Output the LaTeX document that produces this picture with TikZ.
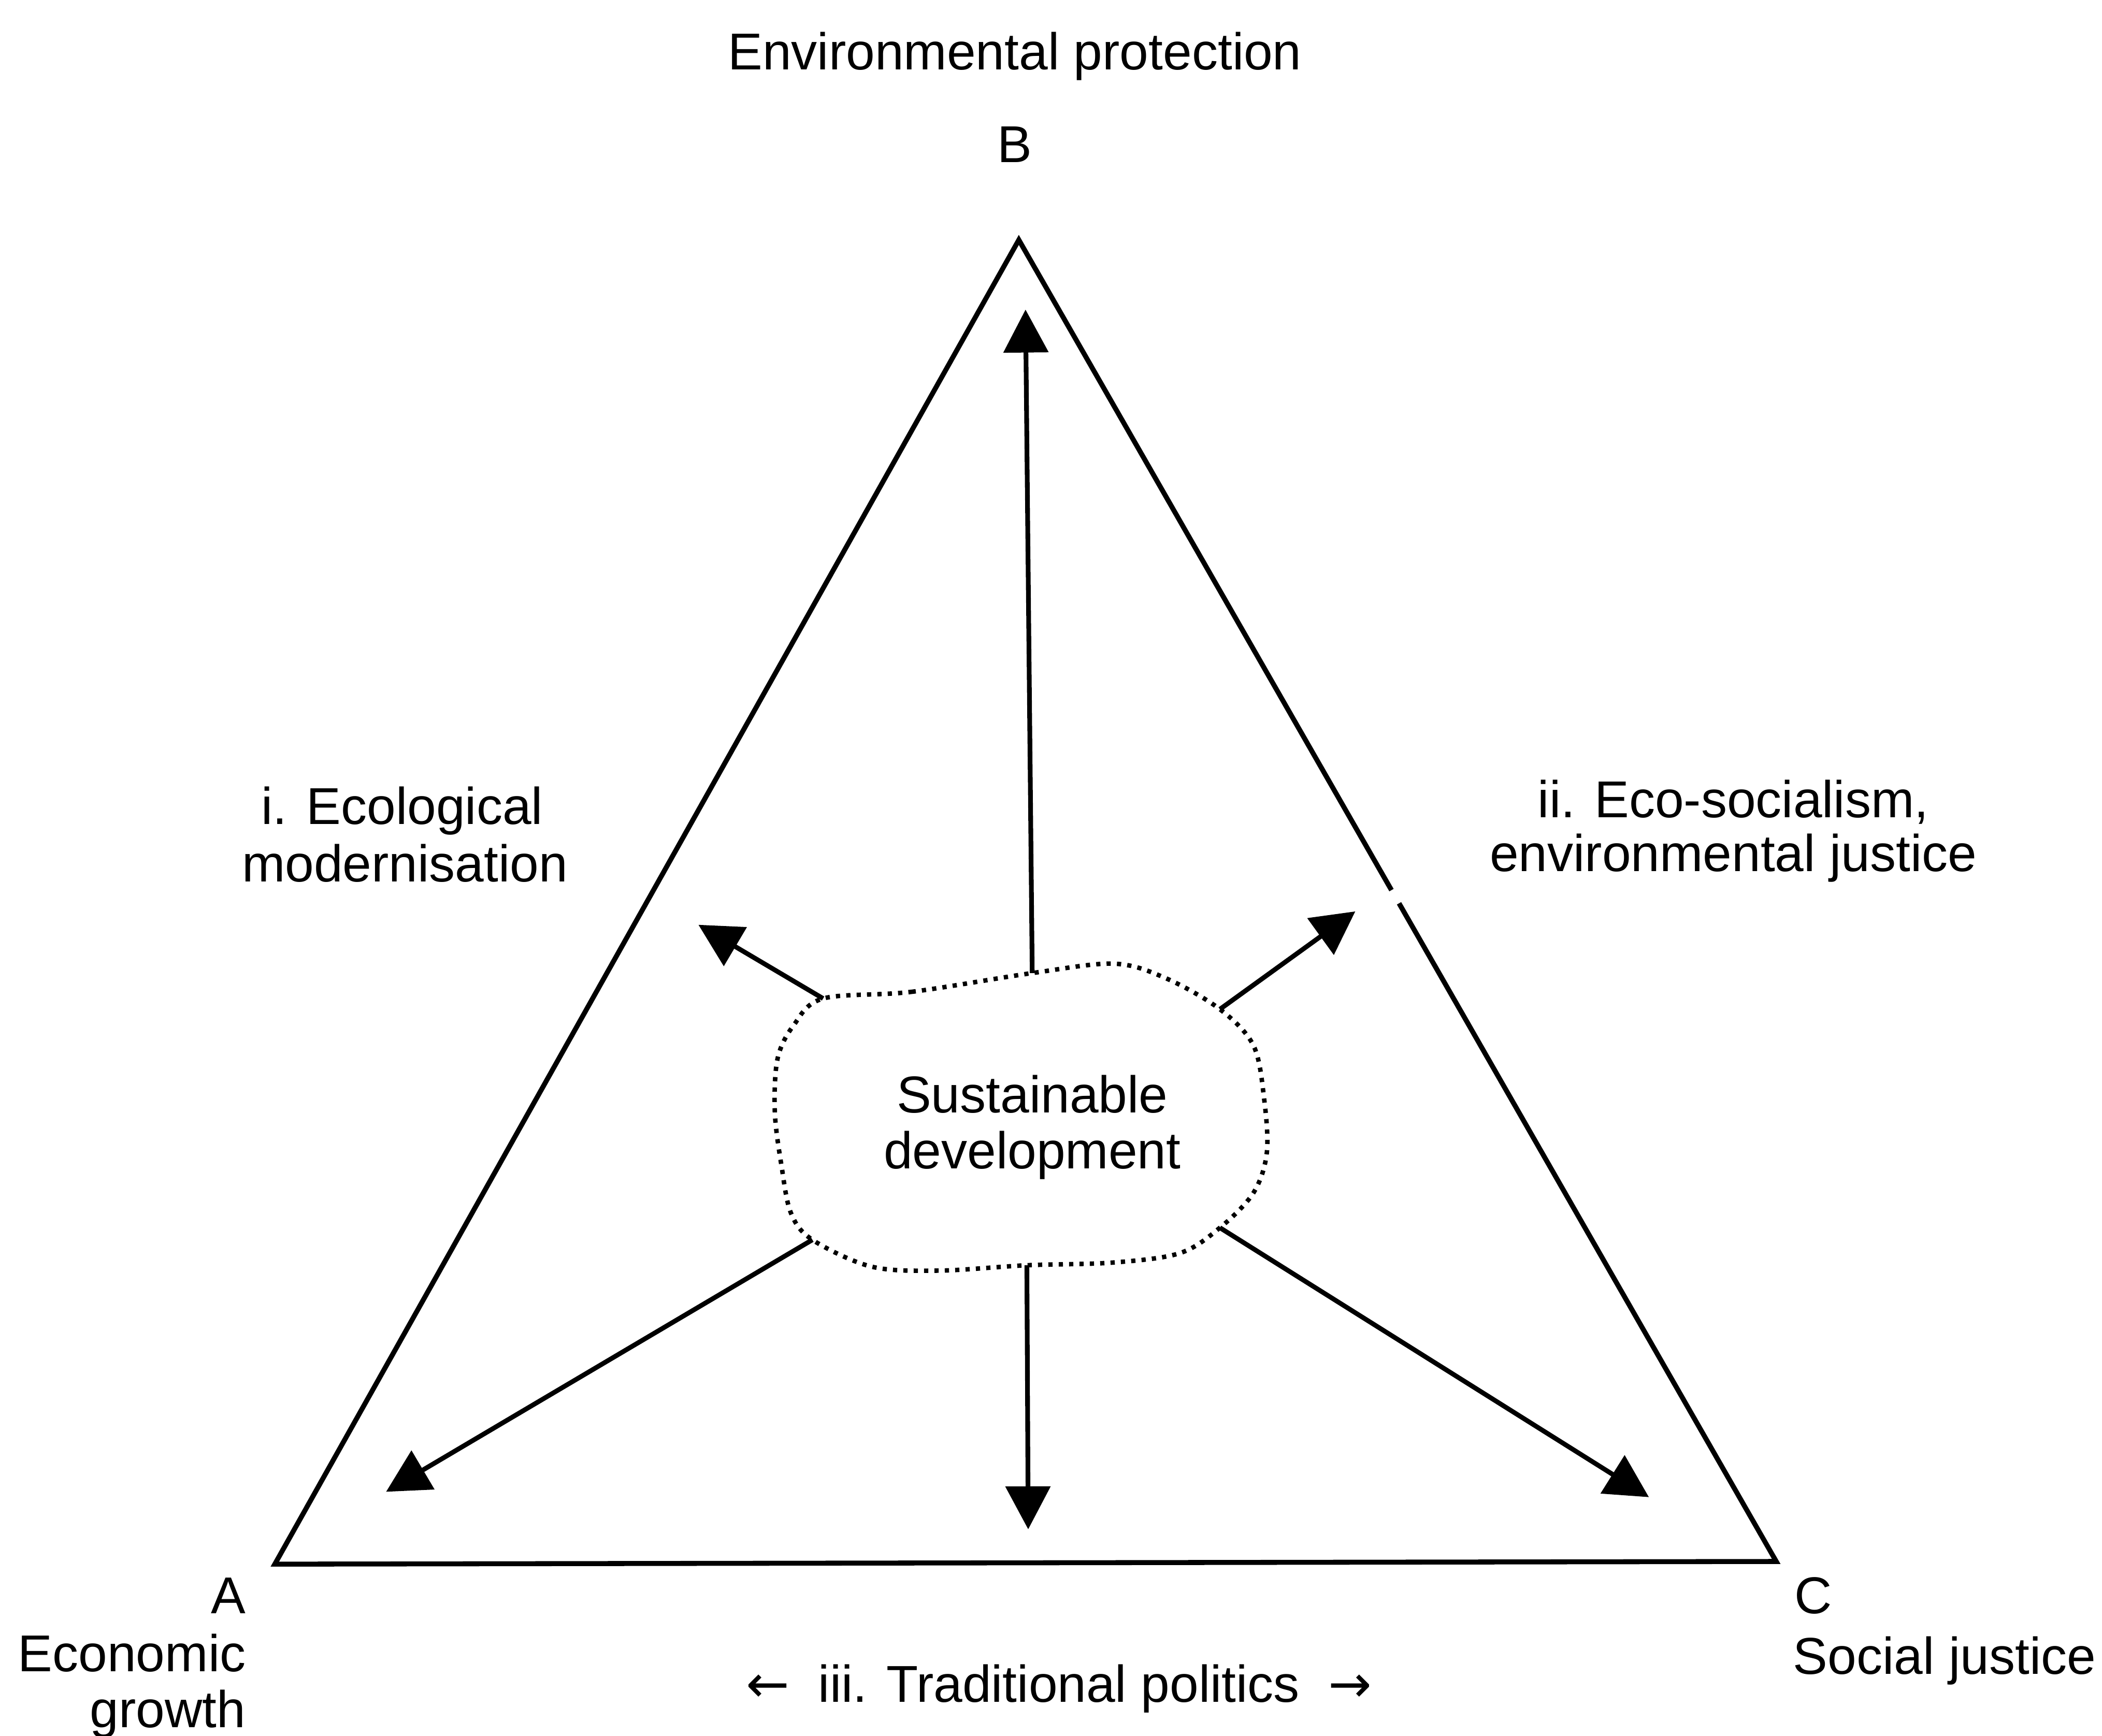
\documentclass[tikz,border=0pt]{standalone}
\usepackage{fontspec}
\setmainfont{Liberation Sans}
\newfontfamily\arrowfont{DejaVu Sans}
\usetikzlibrary{arrows.meta,calc}
\begin{document}
\begin{tikzpicture}[x=0.01cm,y=-0.01cm,
  lbl/.style={font=\fontsize{11pt}{13pt}\selectfont, inner sep=0pt, anchor=base},
  side/.style={line width=1.05pt, line join=miter},
  ray/.style={line width=1pt, -{Triangle[width=0.33cm,length=0.32cm]}},
  cloudline/.style={line width=0.95pt, dash pattern=on 0.9pt off 1.3pt}]
\useasboundingbox (0,0) rectangle (1568,1295);
% triangle corners
\coordinate (A) at (205,1167);
\coordinate (B) at (760,179);
\coordinate (C) at (1325,1165);
\coordinate (g1) at ($(B)!0.492!(C)$);
\coordinate (g2) at ($(B)!0.502!(C)$);
\draw[side] (g1) -- (B) -- (A) -- (C) -- (g2);
% cloud
\draw[cloudline] plot[smooth cycle, tension=0.55] coordinates {
 (614,745) (680,740) (770,726) (831,719) (870,730) (910,753) (935,780)
 (943,820) (945,860) (935,890) (910,916) (880,935) (830,942) (766,944)
 (700,948) (650,945) (606,925) (590,905) (583,870) (578,830) (580,790)
 (592,765)};
\node[lbl] (sd1) at (770,830) {Sustainable};
\node[lbl] (sd2) at (770,872) {development};
% arrow start points on the cloud
\coordinate (sU) at (770,726);
\coordinate (sUL) at (614,745);
\coordinate (sUR) at (910,753);
\coordinate (sLL) at (606,925);
\coordinate (sD) at (766,944);
\coordinate (sLR) at (910,916);
% arrow tips
\coordinate (tU) at (765,231);
\coordinate (tUL) at (521,690);
\coordinate (tUR) at (1011,680);
\coordinate (tLL) at (288,1113);
\coordinate (tD) at (767,1141);
\coordinate (tLR) at (1230,1117);
\draw[ray] (sU) -- (tU);
\draw[ray] (sUL) -- (tUL);
\draw[ray] (sUR) -- (tUR);
\draw[ray] (sLL) -- (tLL);
\draw[ray] (sD) -- (tD);
\draw[ray] (sLR) -- (tLR);
% labels
\node[lbl] (ep) at (757,52) {Environmental protection};
\node[lbl] (lb) at (757,121) {B};
\node[lbl] (em1) at (300,615) {i. Ecological};
\node[lbl] (em2) at (302,658) {modernisation};
\node[lbl] (es1) at (1293,610) {ii. Eco-socialism,};
\node[lbl] (es2) at (1293,650) {environmental justice};
\node[lbl, anchor=base east] (la) at (184,1204) {A};
\node[lbl, anchor=base east] (eg1) at (184,1247) {Economic};
\node[lbl, anchor=base east] (eg2) at (184,1289) {growth};
\node[lbl, anchor=base west] (lc) at (1338,1204) {C};
\node[lbl, anchor=base west] (sj) at (1337,1249) {Social justice};
\node[lbl] (tp) at (790,1270) {{\arrowfont ←}\ \ iii. Traditional politics\ \ {\arrowfont →}};
\end{tikzpicture}
\end{document}
